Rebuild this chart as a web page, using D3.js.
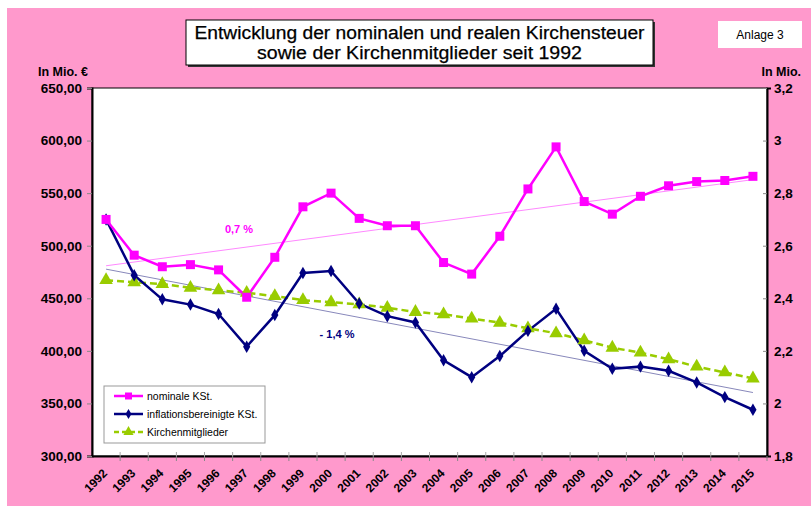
<!DOCTYPE html>
<html><head><meta charset="utf-8">
<script src="https://cdn.jsdelivr.net/npm/d3@7"></script>
<style>
html,body{margin:0;padding:0;background:#fff;}
svg{display:block;font-family:"Liberation Sans",Arial,sans-serif;}
</style></head>
<body><svg id="c" width="811" height="507"></svg>
<script>
const years = ["1992","1993","1994","1995","1996","1997","1998","1999","2000","2001","2002","2003","2004","2005","2006","2007","2008","2009","2010","2011","2012","2013","2014","2015"];
const nominal = [525,491,480,482,477,451,489,537,550,526,519,519,484,473,509,554,594,542,530,547,557,561,562,566];
const real = [525,472,449,444,435,404,434,474,476,445,433,427,391,375,395,419,440,400,383,385,381,370,356,344];
const members = [2.469,2.461,2.454,2.440,2.430,2.421,2.408,2.393,2.385,2.377,2.364,2.348,2.339,2.323,2.307,2.286,2.267,2.240,2.212,2.193,2.168,2.140,2.118,2.095];
const leftTicks = [300,350,400,450,500,550,600,650];
const rightTicks = [1.8,2.0,2.2,2.4,2.6,2.8,3.0,3.2];
const rightTickLabels = ["1,8","2","2,2","2,4","2,6","2,8","3","3,2"];
const seriesNames = ["nominale KSt.","inflationsbereinigte KSt.","Kirchenmitglieder"];
const trendLabels = ["0,7 %","- 1,4 %"];
const titleLines = ["Entwicklung der nominalen und realen Kirchensteuer","sowie der Kirchenmitglieder seit 1992"];

const svg = d3.select("#c");
const L=92, R=767, T=88, B=456;
const pinkBg="#FF99CC", magenta="#FF00FF", navy="#000080", green="#99CC00";
const FF="Liberation Sans, Arial, sans-serif";

svg.append("rect").attr("x",7).attr("y",8).attr("width",804).attr("height",498).attr("fill",pinkBg);

// title box
svg.append("rect").attr("x",188).attr("y",22).attr("width",467).attr("height",45).attr("fill","#333");
svg.append("rect").attr("x",186).attr("y",20).attr("width",467).attr("height",45).attr("fill","#fff").attr("stroke","#000").attr("stroke-width",1);
const titleW=[450,325];
svg.selectAll(".tl").data(titleLines).enter().append("text")
  .attr("x",419.5).attr("y",(d,i)=>38.5+i*20).attr("text-anchor","middle")
  .attr("font-size",18).attr("fill","#000")
  .attr("stroke","#000").attr("stroke-width",0.25)
  .attr("textLength",(d,i)=>titleW[i]).attr("lengthAdjust","spacingAndGlyphs")
  .text(d=>d);
// Anlage box
svg.append("rect").attr("x",718).attr("y",21).attr("width",84).attr("height",27).attr("fill","#fff");
svg.append("text").attr("x",760).attr("y",38.5).attr("text-anchor","middle").attr("font-size",12).text("Anlage 3");

// axis unit labels
svg.append("text").attr("x",88).attr("y",76).attr("text-anchor","end").attr("font-size",12.5).attr("font-weight","bold").text("In Mio. €");
svg.append("text").attr("x",801).attr("y",76).attr("text-anchor","end").attr("font-size",12.5).attr("font-weight","bold").text("In Mio.");

const x = d3.scaleBand().domain(years).range([L,R]);
const xc = d => x(d)+x.bandwidth()/2;
const yL = d3.scaleLinear().domain([300,650]).range([B,T]);
const yR = d3.scaleLinear().domain([1.8,3.2]).range([B,T]);

// plot area
svg.append("rect").attr("x",L).attr("y",T).attr("width",R-L).attr("height",B-T).attr("fill","#fff").attr("stroke","#000").attr("stroke-width",1);

// left axis
const gL = svg.append("g").attr("transform",`translate(${L},0)`)
  .call(d3.axisLeft(yL).tickValues(leftTicks).tickSize(5).tickPadding(5).tickFormat(d=>d3.format(".2f")(d).replace(".",",")));
gL.select(".domain").attr("stroke","#000").attr("stroke-width",2);
gL.selectAll(".tick line").attr("stroke","#888");
gL.selectAll(".tick text").attr("font-size",13.5).attr("font-weight","bold").attr("fill","#000").attr("font-family",FF);

// right axis
const gR = svg.append("g").attr("transform",`translate(${R},0)`)
  .call(d3.axisRight(yR).tickValues(rightTicks).tickSize(4).tickPadding(3).tickFormat((d,i)=>rightTickLabels[i]));
gR.select(".domain").attr("stroke","#000").attr("stroke-width",2);
gR.selectAll(".tick line").attr("stroke","#888").attr("x1",-4).attr("x2",0);
gR.selectAll(".tick text").attr("font-size",13.5).attr("font-weight","bold").attr("fill","#000").attr("font-family",FF);

// bottom axis
const gB = svg.append("g").attr("transform",`translate(0,${B})`)
  .call(d3.axisBottom(x).tickSize(0).tickPadding(0));
gB.select(".domain").attr("stroke","#000").attr("stroke-width",2);
gB.selectAll(".tick text").attr("font-size",12).attr("font-weight","bold").attr("fill","#000")
  .attr("font-family",FF)
  .attr("text-anchor","end").attr("dy",0).attr("y",0)
  .attr("transform","translate(2,18) rotate(-45)");
// separator ticks between categories
svg.append("g").selectAll("line").data(years).enter().append("line")
  .attr("x1",(d,i)=>L+(i+1)*x.step()).attr("x2",(d,i)=>L+(i+1)*x.step())
  .attr("y1",B).attr("y2",B+5).attr("stroke","#888");
svg.append("g").selectAll("line").data(years.slice(1)).enter().append("line")
  .attr("x1",(d,i)=>L+(i+1)*x.step()).attr("x2",(d,i)=>L+(i+1)*x.step())
  .attr("y1",B-4).attr("y2",B).attr("stroke","#aaa");

// trend lines (least squares)
function trend(vals){
  const n=vals.length, xs=d3.range(n);
  const mx=d3.mean(xs), my=d3.mean(vals);
  const b=d3.sum(xs,(v,i)=>(v-mx)*(vals[i]-my))/d3.sum(xs,v=>(v-mx)*(v-mx));
  const a=my-b*mx;
  return [a, a+b*(n-1)];
}
const tN=trend(nominal), tR=trend(real);
svg.append("line").attr("x1",xc(years[0])).attr("x2",xc(years[years.length-1]))
  .attr("y1",yL(tN[0])).attr("y2",yL(tN[1])).attr("stroke","#FF88FF").attr("stroke-width",1);
svg.append("line").attr("x1",xc(years[0])).attr("x2",xc(years[years.length-1]))
  .attr("y1",yL(tR[0])).attr("y2",yL(tR[1])).attr("stroke","#8888BB").attr("stroke-width",1);

// lines
const lineL = d3.line().x((d,i)=>xc(years[i])).y(d=>yL(d));
const lineR = d3.line().x((d,i)=>xc(years[i])).y(d=>yR(d));
svg.append("path").datum(members).attr("d",lineR).attr("fill","none").attr("stroke",green).attr("stroke-width",2.5).attr("stroke-dasharray","7,4");
svg.append("path").datum(real).attr("d",lineL).attr("fill","none").attr("stroke",navy).attr("stroke-width",2.5);
svg.append("path").datum(nominal).attr("d",lineL).attr("fill","none").attr("stroke",magenta).attr("stroke-width",2.5);

// markers
const sq = d3.symbol().type(d3.symbolSquare).size(81);
const dia = d3.symbol().type(d3.symbolDiamond).size(45);
const tri = d3.symbol().type(d3.symbolTriangle).size(80);
svg.append("g").selectAll("path").data(members).enter().append("path")
  .attr("d",tri).attr("transform",(d,i)=>`translate(${xc(years[i])},${yR(d)})`).attr("fill",green);
svg.append("g").selectAll("path").data(real).enter().append("path")
  .attr("d",dia).attr("transform",(d,i)=>`translate(${xc(years[i])},${yL(d)})`).attr("fill",navy);
svg.append("g").selectAll("path").data(nominal).enter().append("path")
  .attr("d",sq).attr("transform",(d,i)=>`translate(${xc(years[i])},${yL(d)})`).attr("fill",magenta);

// trend labels
svg.append("text").attr("x",239).attr("y",233).attr("text-anchor","middle").attr("font-size",11).attr("font-weight","bold").attr("fill",magenta).text(trendLabels[0]);
svg.append("text").attr("x",337).attr("y",338).attr("text-anchor","middle").attr("font-size",11).attr("font-weight","bold").attr("fill",navy).text(trendLabels[1]);

// legend
const lg = svg.append("g");
lg.append("rect").attr("x",104).attr("y",386).attr("width",161).attr("height",57).attr("fill","#fff").attr("stroke","#999").attr("stroke-width",1);
const colors=[magenta,navy,green];
const syms=[d3.symbol().type(d3.symbolSquare).size(49),d3.symbol().type(d3.symbolDiamond).size(30),d3.symbol().type(d3.symbolTriangle).size(45)];
seriesNames.forEach((n,i)=>{
  const yy=396+i*18;
  lg.append("line").attr("x1",114).attr("x2",143).attr("y1",yy).attr("y2",yy)
    .attr("stroke",colors[i]).attr("stroke-width",2.5).attr("stroke-dasharray",i===2?"5,3":null);
  lg.append("path").attr("d",syms[i]).attr("transform",`translate(128.5,${yy})`).attr("fill",colors[i]);
  lg.append("text").attr("x",147).attr("y",yy+4).attr("font-size",10.5).attr("fill","#000").text(n);
});
</script>
</body></html>
